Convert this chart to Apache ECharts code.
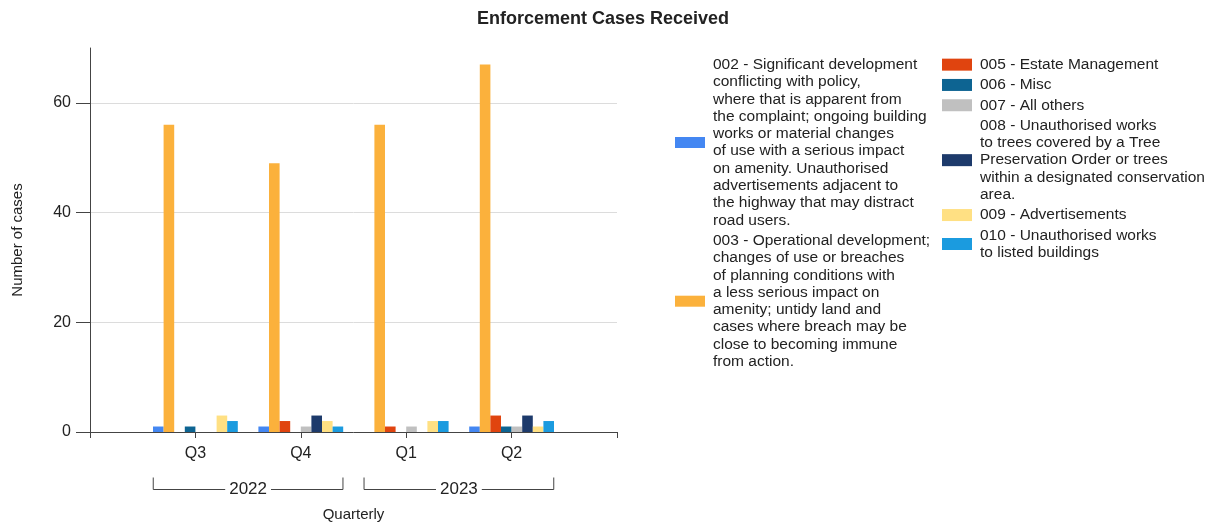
<!DOCTYPE html>
<html>
<head>
<meta charset="utf-8">
<script src="https://cdn.jsdelivr.net/npm/echarts@6/dist/echarts.min.js"></script>
<style>
  html, body { margin: 0; padding: 0; background: #fff; }
  #chart { width: 1221px; height: 524px; }
</style>
</head>
<body>
<div id="chart"></div>
<script>
// Quarters shown on the category axis, and the year each pair belongs to
const quarters = ['Q3', 'Q4', 'Q1', 'Q2'];
const yearLabels = ['2022', '2023'];
const yearQuarterSpans = [[0, 1], [2, 3]];

// Value axis ticks
const yTicks = [0, 20, 40, 60];
const yMax = 70;

// Case categories (legend text keeps its line breaks)
const seriesNames = [
  '002 - Significant development\nconflicting with policy,\nwhere that is apparent from\nthe complaint; ongoing building\nworks or material changes\nof use with a serious impact\non amenity. Unauthorised\nadvertisements adjacent to\nthe highway that may distract\nroad users.',
  '003 - Operational development;\nchanges of use or breaches\nof planning conditions with\na less serious impact on\namenity; untidy land and\ncases where breach may be\nclose to becoming immune\nfrom action.',
  '005 - Estate Management',
  '006 - Misc',
  '007 - All others',
  '008 - Unauthorised works\nto trees covered by a Tree\nPreservation Order or trees\nwithin a designated conservation\narea.',
  '009 - Advertisements',
  '010 - Unauthorised works\nto listed buildings'
];
const seriesColors = ['#4487F2', '#FBB13C', '#E0440F', '#0D6492', '#C0C0C0', '#1D3A6B', '#FFE083', '#1B9BDF'];

// Cases received per quarter (Q3 2022, Q4 2022, Q1 2023, Q2 2023)
const cases002 = [1, 1, 0, 1];
const cases003 = [56, 49, 56, 67];
const cases005 = [0, 2, 1, 3];
const cases006 = [1, 0, 0, 1];
const cases007 = [0, 1, 1, 1];
const cases008 = [0, 3, 0, 3];
const cases009 = [3, 2, 2, 1];
const cases010 = [2, 1, 2, 2];
const seriesValues = [cases002, cases003, cases005, cases006, cases007, cases008, cases009, cases010];

const FONT = '"Liberation Sans", Arial, sans-serif';
const TEXT = '#222';
const AXIS = '#444';

// Empty slots at both ends keep the quarters off the axis edges
const categories = [''].concat(quarters, ['']);
const pad = arr => [null].concat(arr, [null]);

const chart = echarts.init(document.getElementById('chart'), null, { renderer: 'canvas' });

const legendText = {
  fontFamily: FONT, fontSize: 15.5, lineHeight: 17.3, color: TEXT, padding: [0, 0, 0, 3]
};

chart.setOption({
  animation: false,
  textStyle: { fontFamily: FONT },
  title: {
    text: 'Enforcement Cases Received',
    left: 477, top: 10, padding: 0,
    textStyle: { fontFamily: FONT, fontSize: 18, fontWeight: 'bold', color: TEXT }
  },
  legend: [
    {
      data: seriesNames.slice(0, 2),
      orient: 'vertical', left: 675, top: 56, padding: 0,
      itemWidth: 30, itemHeight: 11, itemGap: 3, icon: 'rect',
      selectedMode: false, textStyle: legendText
    },
    {
      data: seriesNames.slice(2),
      orient: 'vertical', left: 942, top: 56, padding: 0,
      itemWidth: 30, itemHeight: 12, itemGap: 3, icon: 'rect',
      selectedMode: false, textStyle: legendText
    }
  ],
  grid: { left: 90, top: 48, right: 604, bottom: 92, containLabel: false, outerBoundsMode: 'none' },
  xAxis: {
    type: 'category',
    data: categories,
    boundaryGap: false,
    name: 'Quarterly',
    nameLocation: 'middle',
    nameGap: 75,
    nameTextStyle: { fontFamily: FONT, fontSize: 15, color: TEXT },
    axisLine: { lineStyle: { color: AXIS, width: 1 } },
    axisTick: { show: true, length: 6, lineStyle: { color: AXIS } },
    axisLabel: { fontFamily: FONT, fontSize: 16, color: TEXT, margin: 14, interval: 0 },
    splitLine: { show: false }
  },
  yAxis: {
    type: 'value',
    min: 0, max: yMax, interval: 20,
    name: 'Number of cases',
    nameLocation: 'middle',
    nameGap: 65,
    nameTextStyle: { fontFamily: FONT, fontSize: 15, color: TEXT },
    axisLine: { show: true, lineStyle: { color: AXIS, width: 1 } },
    axisTick: { show: true, length: 14, customValues: yTicks, lineStyle: { color: AXIS } },
    axisLabel: { fontFamily: FONT, fontSize: 16, color: TEXT, margin: 19, customValues: yTicks },
    splitLine: { show: true, lineStyle: { color: '#dcdcdc', width: 1 } }
  },
  series: seriesNames.map((name, i) => ({
    name: name,
    type: 'bar',
    data: pad(seriesValues[i]),
    barWidth: 10.6,
    barGap: '0%',
    itemStyle: { color: seriesColors[i] },
    emphasis: { disabled: true }
  }))
});

// Year brackets under the quarter labels, placed from the category axis
function drawYearBrackets() {
  const px = idx => chart.convertToPixel({ xAxisIndex: 0 }, idx);
  const band = px(2) - px(1);
  const yBase = chart.convertToPixel({ yAxisIndex: 0 }, 0);
  const yLine = yBase + 57.5;
  const yTop = yLine - 12;
  const elements = [];
  yearLabels.forEach((label, k) => {
    const span = yearQuarterSpans[k];
    const x0 = px(span[0] + 1) - 0.4 * band;
    const x1 = px(span[1] + 1) + 0.4 * band;
    elements.push({
      type: 'polyline',
      silent: true,
      shape: { points: [[x0, yTop], [x0, yLine], [x1, yLine], [x1, yTop]] },
      style: { stroke: AXIS, lineWidth: 1, fill: null }
    });
    elements.push({
      type: 'text',
      silent: true,
      x: (x0 + x1) / 2,
      y: yLine,
      style: {
        text: label,
        font: '17px ' + FONT,
        fill: TEXT,
        align: 'center',
        verticalAlign: 'middle',
        backgroundColor: '#fff',
        padding: [0, 4]
      }
    });
  });
  chart.setOption({ graphic: elements });
}
drawYearBrackets();
</script>
</body>
</html>
